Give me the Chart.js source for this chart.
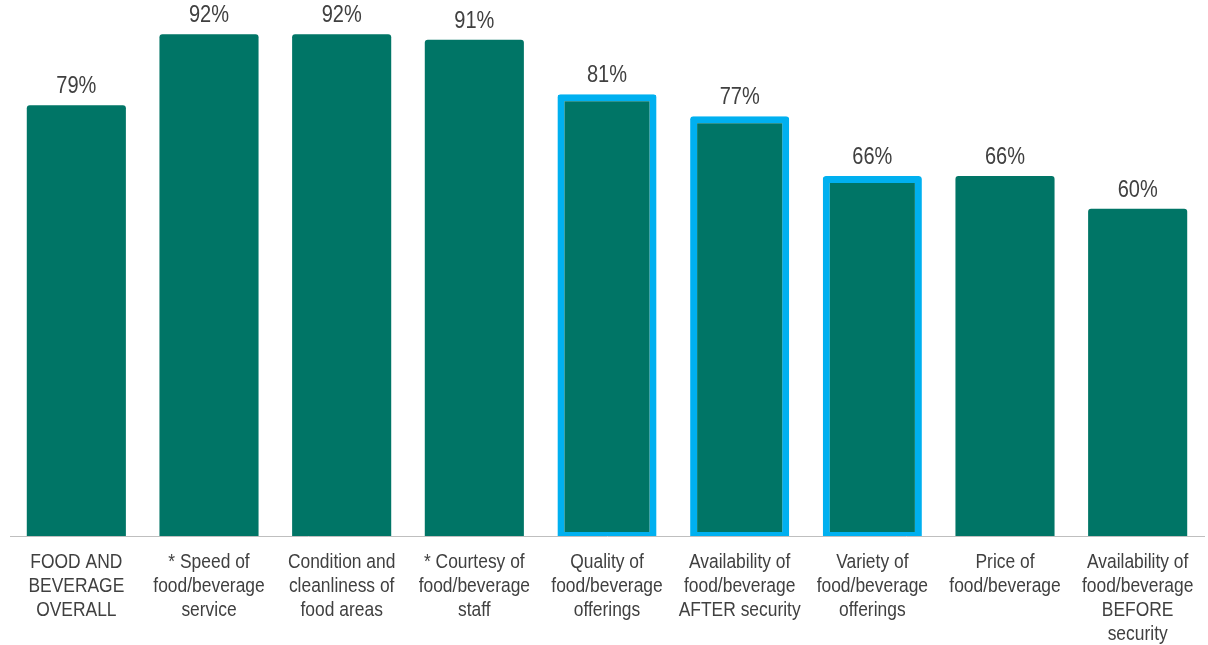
<!DOCTYPE html>
<html>
<head>
<meta charset="utf-8">
<script src="https://cdn.jsdelivr.net/npm/chart.js@4.4.1/dist/chart.umd.min.js"></script>
<style>
  html, body { margin: 0; padding: 0; background: #ffffff; }
  #wrap { width: 1208px; height: 645px; position: relative; }
</style>
</head>
<body>
<div id="wrap"><canvas id="c"></canvas></div>
<script>
const categories = [
  ["FOOD AND", "BEVERAGE", "OVERALL"],
  ["* Speed of", "food/beverage", "service"],
  ["Condition and", "cleanliness of", "food areas"],
  ["* Courtesy of", "food/beverage", "staff"],
  ["Quality of", "food/beverage", "offerings"],
  ["Availability of", "food/beverage", "AFTER security"],
  ["Variety of", "food/beverage", "offerings"],
  ["Price of", "food/beverage"],
  ["Availability of", "food/beverage", "BEFORE", "security"]
];
const satisfaction = [79, 92, 92, 91, 81, 77, 66, 66, 60];
const highlighted = [false, false, false, false, true, true, true, false, false];

const TEAL = "#007566";
const CYAN = "#00b0f0";
const TEXT = "#404040";
const FONT = "'Liberation Sans', Arial, sans-serif";

// Narrow-looking text (reference uses a condensed face): horizontally squeezed canvas text
function narrowText(ctx, text, x, y, squeeze) {
  ctx.save();
  ctx.translate(x, y);
  ctx.scale(squeeze, 1);
  ctx.fillText(text, 0, 0);
  ctx.restore();
}

const textPlugin = {
  id: "textPlugin",
  afterDatasetsDraw(chart) {
    const ctx = chart.ctx;
    const meta = chart.getDatasetMeta(0);
    ctx.save();
    ctx.font = "23px " + FONT;
    ctx.fillStyle = TEXT;
    ctx.textAlign = "center";
    ctx.textBaseline = "alphabetic";
    meta.data.forEach((bar, i) => {
      narrowText(ctx, satisfaction[i] + "%", bar.x, bar.y - 12, 0.87);
    });
    ctx.restore();
  },
  afterDraw(chart) {
    const ctx = chart.ctx;
    const xs = chart.scales.x;
    ctx.save();
    ctx.font = "20.5px " + FONT;
    ctx.fillStyle = TEXT;
    ctx.textAlign = "center";
    ctx.textBaseline = "middle";
    xs.ticks.forEach((t, i) => {
      const x = xs.getPixelForTick(i);
      const lines = categories[i];
      lines.forEach((line, j) => {
        narrowText(ctx, line, x, xs.top + 26 + j * 24, 0.85);
      });
    });
    ctx.restore();
  }
};

new Chart(document.getElementById("c"), {
  type: "bar",
  data: {
    labels: categories,
    datasets: [{
      data: satisfaction,
      backgroundColor: TEAL,
      borderColor: highlighted.map(h => h ? CYAN : TEAL),
      borderWidth: highlighted.map(h => h ? { top: 7, left: 7, right: 7, bottom: 4 } : 0),
      borderSkipped: false,
      borderRadius: { topLeft: 3, topRight: 3, bottomLeft: 0, bottomRight: 0 },
      categoryPercentage: 1,
      barPercentage: 0.747
    }]
  },
  options: {
    responsive: true,
    maintainAspectRatio: false,
    animation: false,
    layout: { padding: { left: 10, right: 4, top: 0, bottom: 0 } },
    plugins: {
      legend: { display: false },
      tooltip: { enabled: false }
    },
    scales: {
      x: {
        grid: { display: false, drawTicks: false },
        border: { display: true, color: "#bfbfbf", width: 1 },
        afterFit(scale) { scale.height = 109; },
        ticks: { display: false, autoSkip: false }
      },
      y: {
        display: false,
        min: 0,
        max: 98.3
      }
    }
  },
  plugins: [textPlugin]
});
</script>
</body>
</html>
